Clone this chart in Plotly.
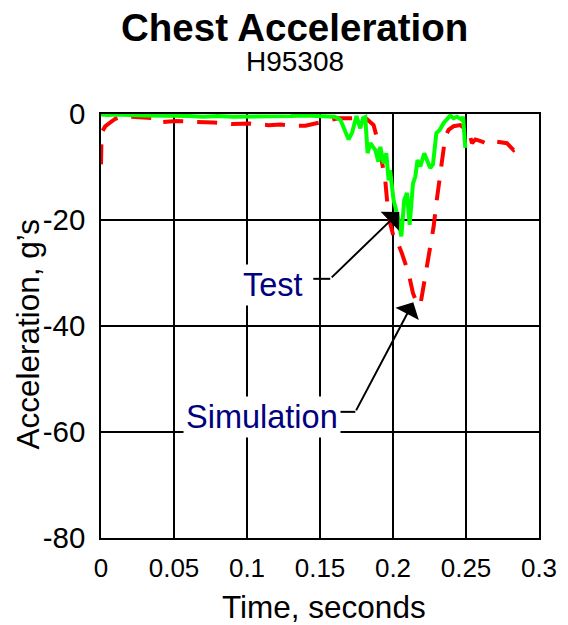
import plotly.graph_objects as go

# Measured chest acceleration (test run H95308)
test_time = [0, 0.005, 0.01, 0.015, 0.02, 0.03, 0.04, 0.05, 0.06, 0.07, 0.08, 0.09,
             0.10, 0.11, 0.12, 0.13, 0.14, 0.15, 0.16, 0.164, 0.1696, 0.172, 0.175,
             0.1776, 0.1795, 0.181, 0.1826, 0.1845, 0.1879, 0.190, 0.1913, 0.1936,
             0.1954, 0.197, 0.198, 0.2004, 0.2038, 0.2057, 0.2077, 0.2096, 0.2114,
             0.2137, 0.2153, 0.2168, 0.2187, 0.2214, 0.2233, 0.2255, 0.2274, 0.2283,
             0.2297, 0.232, 0.2347, 0.2392, 0.2415, 0.2438, 0.2473, 0.248, 0.2495]
test_accel = [-0.1, -0.2, -0.1, -0.2, -0.2, -0.3, -0.3, -0.3, -0.4, -0.5, -0.4, -0.5,
              -0.5, -0.4, -0.5, -0.4, -0.3, -0.4, -0.5, -1.1, -4.8, -3.5, -0.4,
              -2.7, -0.8, -0.6, -7.4, -5.5, -6.8, -9.0, -6.2, -9.3,
              -7.4, -12.5, -10.6, -16.2, -20.0, -23.1, -16.2, -14.9, -20.9,
              -13.1, -11.8, -8.7, -9.9, -7.4, -8.7, -10.2, -9.5, -6.2,
              -3.6, -3.0, -1.7, -0.3, -0.8, -0.5, -1.1, -0.5, -6.4]

# Simulated chest acceleration
sim_time = [0, 0.0004, 0.003, 0.006, 0.0098, 0.0155, 0.022, 0.029, 0.037, 0.0395,
            0.0516, 0.0646, 0.077, 0.0897, 0.102, 0.1148, 0.1228, 0.130, 0.140, 0.150,
            0.1625, 0.170, 0.181, 0.1867, 0.19, 0.1924, 0.1947, 0.1959, 0.198, 0.2004,
            0.2016, 0.2061, 0.2084, 0.2107, 0.2137, 0.2164, 0.2187, 0.221, 0.2233,
            0.2255, 0.2278, 0.23, 0.2319, 0.2342, 0.2358, 0.2381, 0.2415, 0.246,
            0.2518, 0.2541, 0.2564, 0.261, 0.2655, 0.27, 0.278, 0.2826, 0.2884]
sim_accel = [-9.5, -3.5, -2.3, -1.6, -0.9, -0.4, -0.5, -0.7, -0.8, -1.6,
             -1.3, -1.5, -1.6, -1.9, -1.8, -2.1, -2.0, -2.2, -2.2, -1.6,
             -0.8, -0.8, -0.7, -2.1, -5.5, -9.0, -12.5, -16.2, -20.6, -23.1,
             -23.1, -26.3, -28.2, -30.1, -33.8, -35.7, -36.1, -32.6, -28.8,
             -25.7, -21.3, -16.2, -12.5, -8.0, -4.3, -3.0, -2.3, -2.1,
             -3.3, -5.5, -4.8, -5.2, -5.8, -5.2, -5.5, -6.8, -5.5]

x_ticks = [0, 0.05, 0.1, 0.15, 0.2, 0.25, 0.3]
x_tick_text = ["0", "0.05", "0.1", "0.15", "0.2", "0.25", "0.3"]
y_ticks = [0, -20, -40, -60, -80]
y_tick_text = ["0", "-20", "-40", "-60", "-80"]

FONT = "Liberation Sans, Arial, sans-serif"
W, H = 568, 625
ML, MR, MT, MB = 101, 29, 114, 87
PW, PH = W - ML - MR, H - MT - MB


def px(xp):
    return (xp - ML) / PW


def py(yp):
    return (H - MB - yp) / PH


fig = go.Figure()
fig.add_trace(go.Scatter(x=sim_time, y=sim_accel, mode="lines",
                         line=dict(color="#ff0000", width=4, dash="20px,14px"),
                         showlegend=False, hoverinfo="skip"))
fig.add_trace(go.Scatter(x=test_time, y=test_accel, mode="lines",
                         line=dict(color="#00ff00", width=4),
                         showlegend=False, hoverinfo="skip"))

axis_common = dict(showgrid=True, gridcolor="black", gridwidth=1.6,
                   showline=True, linecolor="black", linewidth=1.6, mirror=True,
                   zeroline=False, ticks="", tickmode="array")

fig.update_xaxes(range=[0, 0.3], tickvals=x_ticks, ticktext=x_tick_text,
                 tickfont=dict(family=FONT, size=26, color="black"),
                 ticklabelstandoff=6, **axis_common)
fig.update_yaxes(range=[-80, 0], tickvals=y_ticks, ticktext=y_tick_text,
                 tickfont=dict(family=FONT, size=29.5, color="black"),
                 ticklabelstandoff=8, **axis_common)

navy = "#000080"
annotations = [
    dict(text="<b>Chest Acceleration</b>", x=px(294), y=py(27.5), xref="paper", yref="paper",
         showarrow=False, font=dict(family=FONT, size=38.5, color="black"),
         xanchor="center", yanchor="middle"),
    dict(text="H95308", x=px(295), y=py(62), xref="paper", yref="paper",
         showarrow=False, font=dict(family=FONT, size=28, color="black"),
         xanchor="center", yanchor="middle"),
    dict(text="Time, seconds", x=px(324), y=py(607), xref="paper", yref="paper",
         showarrow=False, font=dict(family=FONT, size=31.5, color="black"),
         xanchor="center", yanchor="middle"),
    dict(text="Acceleration, g\u2019s", x=px(27.5), y=py(334), xref="paper", yref="paper",
         showarrow=False, textangle=-90, font=dict(family=FONT, size=31.5, color="black"),
         xanchor="center", yanchor="middle"),
    # Curve labels
    dict(text="Test", x=0.1175, y=-32.3, xref="x", yref="y", showarrow=False,
         bgcolor="white", borderpad=2, font=dict(family=FONT, size=32.5, color=navy)),
    dict(text="Simulation", x=0.1105, y=-57.1, xref="x", yref="y", showarrow=False,
         bgcolor="white", borderpad=2, font=dict(family=FONT, size=32.5, color=navy)),
    # Leader arrows
    dict(text="", x=0.2043, y=-18.5, ax=0.157, ay=-31.1, xref="x", yref="y",
         axref="x", ayref="y", showarrow=True, arrowhead=1, arrowsize=2.2,
         arrowwidth=2, arrowcolor="black", standoff=0, startstandoff=0),
    dict(text="", x=0.2139, y=-35.5, ax=0.1742, ay=-56.2, xref="x", yref="y",
         axref="x", ayref="y", showarrow=True, arrowhead=1, arrowsize=2.2,
         arrowwidth=2, arrowcolor="black", standoff=0, startstandoff=0),
]

shapes = [
    dict(type="line", x0=0.1454, x1=0.157, y0=-31.1, y1=-31.1, xref="x", yref="y",
         line=dict(color="black", width=2), layer="above"),
    dict(type="line", x0=0.1618, x1=0.1742, y0=-56.2, y1=-56.2, xref="x", yref="y",
         line=dict(color="black", width=2), layer="above"),
]

fig.update_layout(width=W, height=H, margin=dict(l=ML, r=MR, t=MT, b=MB),
                  paper_bgcolor="white", plot_bgcolor="white",
                  annotations=annotations, shapes=shapes,
                  font=dict(family=FONT, color="black"))

fig.write_html("out.html")
